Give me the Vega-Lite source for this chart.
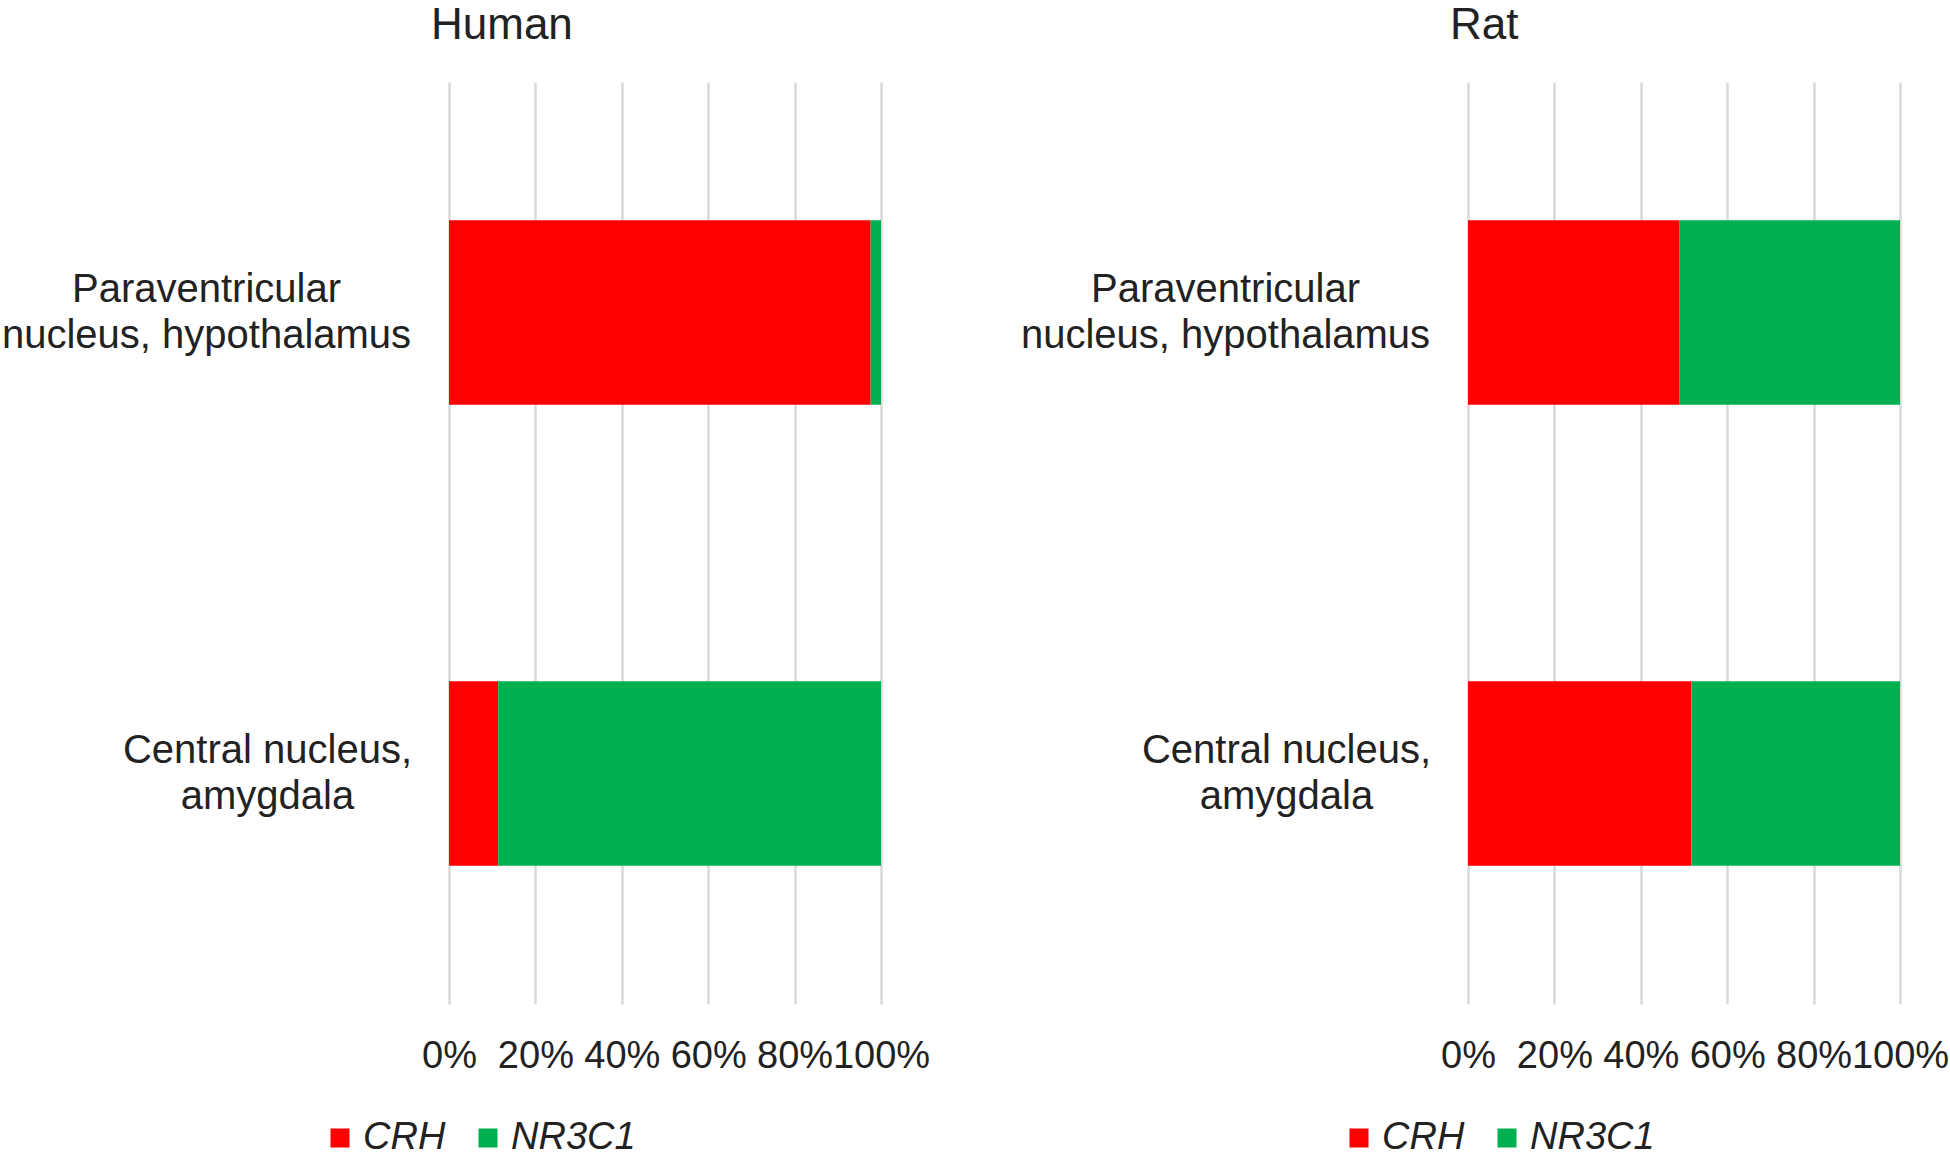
{
  "$schema": "https://vega.github.io/schema/vega-lite/v6.json",
  "padding": {"top": 4, "left": 1, "right": 0, "bottom": 0},
  "background": "white",
  "config": {
    "font": "Liberation Sans",
    "view": {"stroke": null},
    "title": {"fontSize": 44, "fontWeight": "normal", "color": "#222222", "anchor": "start", "frame": "group", "dx": -18, "baseline": "alphabetic", "offset": 34},
    "axis": {"labelColor": "#222222", "labelFont": "Liberation Sans"},
    "legend": {"labelColor": "#222222", "padding": 0}
  },
  "data": {
    "values": [
      {"species": "Human", "region": "Paraventricular nucleus, hypothalamus", "gene": "CRH", "pct": 97.6},
      {"species": "Human", "region": "Paraventricular nucleus, hypothalamus", "gene": "NR3C1", "pct": 2.4},
      {"species": "Human", "region": "Central nucleus, amygdala", "gene": "CRH", "pct": 11.4},
      {"species": "Human", "region": "Central nucleus, amygdala", "gene": "NR3C1", "pct": 88.6},
      {"species": "Rat", "region": "Paraventricular nucleus, hypothalamus", "gene": "CRH", "pct": 49.0},
      {"species": "Rat", "region": "Paraventricular nucleus, hypothalamus", "gene": "NR3C1", "pct": 51.0},
      {"species": "Rat", "region": "Central nucleus, amygdala", "gene": "CRH", "pct": 51.7},
      {"species": "Rat", "region": "Central nucleus, amygdala", "gene": "NR3C1", "pct": 48.3}
    ]
  },
  "spacing": 90,
  "resolve": {"legend": {"color": "independent"}},
  "hconcat": [
    {
      "title": "Human",
      "width": 432,
      "height": 922,
      "transform": [{"filter": "datum.species == 'Human'"}],
      "mark": {"type": "bar"},
      "encoding": {
        "y": {
          "field": "region", "type": "nominal",
          "sort": ["Paraventricular nucleus, hypothalamus", "Central nucleus, amygdala"],
          "scale": {"paddingInner": 0.6, "paddingOuter": 0.3},
          "axis": {
            "title": null, "domain": false, "ticks": false, "tickSize": 0, "grid": false,
            "labelFontSize": 40, "labelLineHeight": 46, "labelAlign": "center", "labelBaseline": "middle",
            "labelLimit": 1000, "labelOffset": -23,
            "labelPadding": {"condition": {"test": "datum.value == 'Paraventricular nucleus, hypothalamus'", "value": 243}, "value": 182},
            "labelExpr": "datum.value == 'Paraventricular nucleus, hypothalamus' ? ['Paraventricular', 'nucleus, hypothalamus'] : ['Central nucleus,', 'amygdala']"
          }
        },
        "x": {
          "field": "pct", "type": "quantitative", "stack": "normalize",
          "scale": {"domain": [0, 1]},
          "axis": {
            "title": null, "domain": false, "ticks": false, "tickSize": 0, "format": ".0%",
            "values": [0, 0.2, 0.4, 0.6, 0.8, 1], "labelOverlap": false, "labelFlush": false,
            "labelFontSize": 38, "labelPadding": 33,
            "gridColor": "#d9d9d9", "gridWidth": 2.5
          }
        },
        "color": {
          "field": "gene", "type": "nominal",
          "scale": {"domain": ["CRH", "NR3C1"], "range": ["#ff0000", "#00b050"]},
          "legend": {
            "title": null, "orient": "none", "legendX": -128, "legendY": 1037, "direction": "horizontal",
            "symbolType": "square", "symbolSize": 361, "symbolStrokeWidth": 0,
            "labelFontSize": 38, "labelFontStyle": "italic", "labelOffset": 4, "columnPadding": 23
          }
        }
      }
    },
    {
      "title": "Rat",
      "width": 432,
      "height": 922,
      "transform": [{"filter": "datum.species == 'Rat'"}],
      "mark": {"type": "bar"},
      "encoding": {
        "y": {
          "field": "region", "type": "nominal",
          "sort": ["Paraventricular nucleus, hypothalamus", "Central nucleus, amygdala"],
          "scale": {"paddingInner": 0.6, "paddingOuter": 0.3},
          "axis": {
            "title": null, "domain": false, "ticks": false, "tickSize": 0, "grid": false,
            "labelFontSize": 40, "labelLineHeight": 46, "labelAlign": "center", "labelBaseline": "middle",
            "labelLimit": 1000, "labelOffset": -23,
            "labelPadding": {"condition": {"test": "datum.value == 'Paraventricular nucleus, hypothalamus'", "value": 243}, "value": 182},
            "labelExpr": "datum.value == 'Paraventricular nucleus, hypothalamus' ? ['Paraventricular', 'nucleus, hypothalamus'] : ['Central nucleus,', 'amygdala']"
          }
        },
        "x": {
          "field": "pct", "type": "quantitative", "stack": "normalize",
          "scale": {"domain": [0, 1]},
          "axis": {
            "title": null, "domain": false, "ticks": false, "tickSize": 0, "format": ".0%",
            "values": [0, 0.2, 0.4, 0.6, 0.8, 1], "labelOverlap": false, "labelFlush": false,
            "labelFontSize": 38, "labelPadding": 33,
            "gridColor": "#d9d9d9", "gridWidth": 2.5
          }
        },
        "color": {
          "field": "gene", "type": "nominal",
          "scale": {"domain": ["CRH", "NR3C1"], "range": ["#ff0000", "#00b050"]},
          "legend": {
            "title": null, "orient": "none", "legendX": -128, "legendY": 1037, "direction": "horizontal",
            "symbolType": "square", "symbolSize": 361, "symbolStrokeWidth": 0,
            "labelFontSize": 38, "labelFontStyle": "italic", "labelOffset": 4, "columnPadding": 23
          }
        }
      }
    }
  ]
}
